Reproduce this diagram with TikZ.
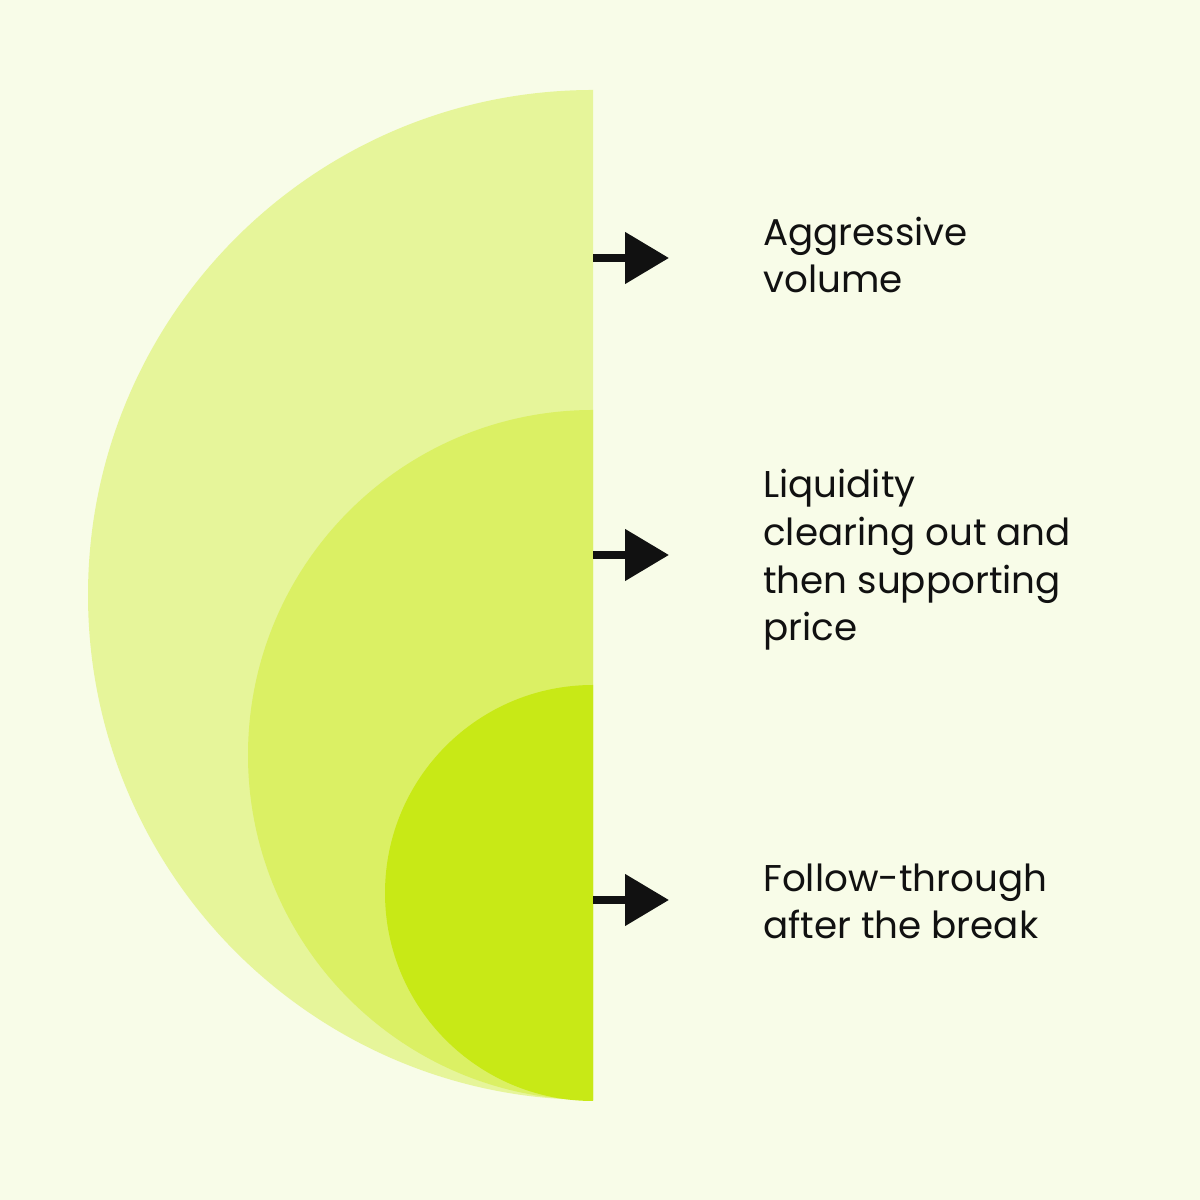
\documentclass[tikz,border=0pt]{standalone}
\usepackage{fontspec}
\setmainfont{Poppins}
\usetikzlibrary{arrows.meta,positioning}
\definecolor{bgcream}{HTML}{F8FCE8}
\definecolor{discouter}{HTML}{E6F59A}
\definecolor{discmid}{HTML}{DBF064}
\definecolor{discinner}{HTML}{C8E916}
\definecolor{arrowink}{HTML}{111111}
\tikzset{
  pointer/.style={arrowink, line width=5.7pt, -{Triangle[length=44*0.7113pt, width=50*0.7113pt]}},
  label/.style={anchor=base west, inner sep=0pt, align=left, text=arrowink,
    font=\fontsize{26.5}{34.1}\selectfont}
}
\begin{document}
\begin{tikzpicture}[x=0.025cm, y=0.025cm]
    % Background
    \fill[bgcream] (0,0) rectangle (1200,1200);
    \useasboundingbox (0,0) rectangle (1200,1200);

    % Half discs
    \fill[discouter] (593,1110) arc[start angle=90, end angle=270, radius=505] -- cycle;
    \fill[discmid] (593,790) arc[start angle=90, end angle=270, radius=345] -- cycle;
    \fill[discinner] (593,515) arc[start angle=90, end angle=270, radius=208] -- cycle;

    % Arrows
    \coordinate (vols) at (593,942);
    \coordinate (vole) at (669,942);
    \coordinate (liqs) at (593,645);
    \coordinate (liqe) at (669,645);
    \coordinate (fols) at (593,300);
    \coordinate (fole) at (669,300);
    \draw[pointer] (vols) -- (vole);
    \draw[pointer] (liqs) -- (liqe);
    \draw[pointer] (fols) -- (fole);

    % Labels (base = last line)
    \node[label] (volume) at (763,907) {Aggressive\\volume};
    \node[label] (liquidity) at (763,559) {Liquidity\\clearing out and\\then supporting\\price};
    \node[label] (follow) at (763,261) {Follow-through\\after the break};
\end{tikzpicture}
\end{document}
